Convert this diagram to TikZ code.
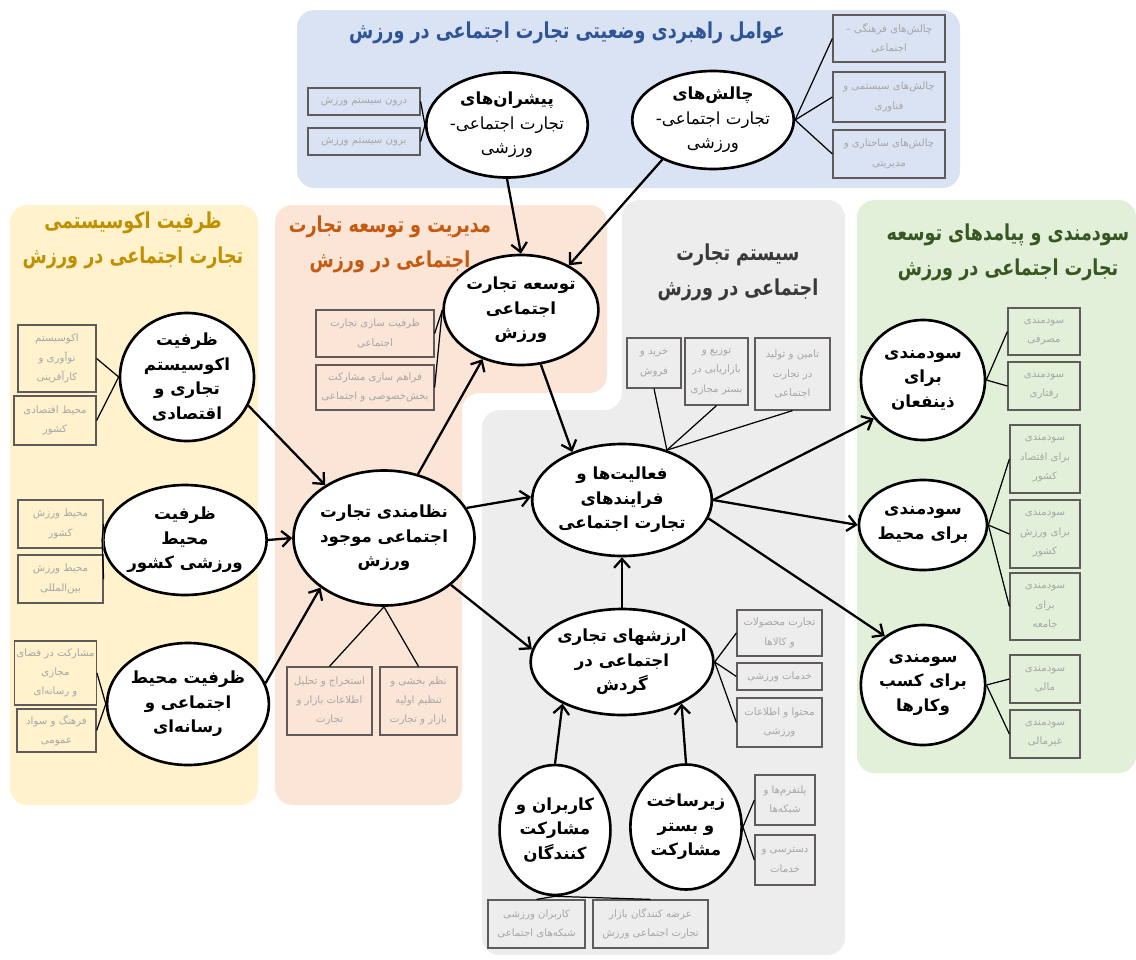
\documentclass[tikz,border=0pt]{standalone}
\usepackage{fontspec}
\setmainfont[Script=Arabic]{DejaVu Sans}
\newfontfamily\titlefont[Script=Arabic, FakeStretch=0.8]{DejaVu Sans}
\TeXXeTstate=1
\usetikzlibrary{shapes.geometric}
\usetikzlibrary{arrows.meta}

\newcommand{\fa}[1]{\beginR#1\endR}
\newlength{\pxlen}
\setlength{\pxlen}{0.02cm}

\definecolor{panelBlue}{HTML}{DAE3F3}
\definecolor{panelYellow}{HTML}{FFF2CC}
\definecolor{panelOrange}{HTML}{FBE5D6}
\definecolor{panelGray}{HTML}{EDEDED}
\definecolor{panelGreen}{HTML}{E2F0D9}
\definecolor{titleBlue}{HTML}{2F5597}
\definecolor{titleGold}{HTML}{BF9000}
\definecolor{titleOrange}{HTML}{C55A11}
\definecolor{titleGray}{HTML}{3A3838}
\definecolor{titleGreen}{HTML}{385723}
\definecolor{boxEdge}{HTML}{5F5B5B}
\definecolor{boxText}{HTML}{A6A6A6}

\tikzset{
	circ/.style={ellipse, draw=black, line width=1.5pt, fill=white, inner sep=0pt, align=center, font=\fontsize{9.5}{14}\selectfont\bfseries},
	infobox/.style={rectangle, draw=boxEdge, line width=0.7pt, text=boxText, inner sep=1pt, align=center, font=\fontsize{5.8}{11}\selectfont},
	sz/.style n args={2}{minimum width=#1\pxlen, minimum height=#2\pxlen},
	link/.style={draw=black, line width=0.7pt},
	flow/.style={draw=black, line width=1.3pt, -{Straight Barb[length=5pt,width=9pt,line width=1.3pt]}},
	paneltitle/.style={align=center, font=\titlefont\fontsize{12.5}{20}\selectfont\bfseries}
}

\begin{document}
\begin{tikzpicture}[x=0.02cm, y=-0.02cm]

	\useasboundingbox (0,0) rectangle (1136,960);

	%background panels
	\fill[panelBlue, rounded corners=0.35cm] (297,10) rectangle (960,188);
	\fill[panelYellow, rounded corners=0.35cm] (10,205) rectangle (258,805);
	\fill[panelOrange, rounded corners=0.35cm] (275,205) -- (607,205) -- (607,393) -- (462,393) -- (462,805) -- (275,805) -- cycle;
	\fill[panelGray, rounded corners=0.35cm] (622,200) -- (845,200) -- (845,955) -- (482,955) -- (482,410) -- (622,410) -- cycle;
	\fill[panelGreen, rounded corners=0.35cm] (857,200) rectangle (1136,773);

	%panel titles
	\node[paneltitle, text=titleBlue] (titleStrategic) at (567,33) {\fa{عوامل راهبردی وضعیتی تجارت اجتماعی در ورزش}};
	\node[paneltitle, text=titleGold] (titleEcosystem) at (133,240) {\fa{ظرفیت اکوسیستمی}\\\fa{تجارت اجتماعی در ورزش}};
	\node[paneltitle, text=titleOrange] (titleManagement) at (390,244) {\fa{مدیریت و توسعه تجارت}\\\fa{اجتماعی در ورزش}};
	\node[paneltitle, text=titleGray] (titleSystem) at (738,272) {\fa{سیستم تجارت}\\\fa{اجتماعی در ورزش}};
	\node[paneltitle, text=titleGreen] (titleOutcomes) at (1008,252) {\fa{سودمندی و پیامدهای توسعه}\\\fa{تجارت اجتماعی در ورزش}};

	%strategic factors
	\node[circ, sz={127}{105}] (circDrivers) at (507,125) {\fa{پیشران^^^^200cهای}\\{\mdseries\fa{تجارت اجتماعی-}}\\{\mdseries\fa{ورزشی}}};
	\node[circ, sz={137}{98}] (circChallenges) at (713,120) {\fa{چالش^^^^200cهای}\\{\mdseries\fa{تجارت اجتماعی-}}\\{\mdseries\fa{ورزشی}}};
	\node[infobox, sz={112}{27}] (boxInside) at (364,101.5) {\fa{درون سیستم ورزش}};
	\node[infobox, sz={112}{27}] (boxOutside) at (364,141.5) {\fa{برون سیستم ورزش}};
	\node[infobox, sz={112}{47}] (boxCultural) at (889,38.5) {\fa{چالش^^^^200cهای فرهنگی –}\\\fa{اجتماعی}};
	\node[infobox, sz={112}{50}] (boxSystemic) at (889,97) {\fa{چالش^^^^200cهای سیستمی و}\\\fa{فناوری}};
	\node[infobox, sz={112}{48}] (boxStructural) at (889,154) {\fa{چالش^^^^200cهای ساختاری و}\\\fa{مدیریتی}};
	\draw[link] (boxInside.east) -- (circDrivers.west);
	\draw[link] (boxOutside.east) -- (circDrivers.west);
	\draw[link] (circChallenges.east) -- (boxCultural.west);
	\draw[link] (circChallenges.east) -- (boxSystemic.west);
	\draw[link] (circChallenges.east) -- (boxStructural.west);

	%ecosystem capacity
	\node[circ, sz={134}{128}] (circEcosystem) at (187,377) {\fa{ظرفیت}\\\fa{اکوسیستم}\\\fa{تجاری و}\\\fa{اقتصادی}};
	\node[circ, sz={134}{110}] (circSportEnv) at (185,540) {\fa{ظرفیت}\\\fa{محیط}\\\fa{ورزشی کشور}};
	\node[circ, sz={138}{122}] (circSocialEnv) at (188,704) {\fa{ظرفیت محیط}\\\fa{اجتماعی و}\\\fa{رسانه^^^^200cای}};
	\node[infobox, sz={78}{67}] (boxInnovation) at (57,358.5) {\fa{اکوسیستم}\\\fa{نوآوری و}\\\fa{کارآفرینی}};
	\node[infobox, sz={82}{49}] (boxEconomic) at (55,420.5) {\fa{محیط اقتصادی}\\\fa{کشور}};
	\node[infobox, sz={85}{48}] (boxSportNat) at (60.5,524) {\fa{محیط ورزش}\\\fa{کشور}};
	\node[infobox, sz={85}{48}] (boxSportIntl) at (60.5,579) {\fa{محیط ورزش}\\\fa{بین^^^^200cالمللی}};
	\node[infobox, sz={81}{64}] (boxCyber) at (55.5,673) {\fa{مشارکت در فضای}\\\fa{مجازی}\\\fa{و رسانه^^^^200cای}};
	\node[infobox, sz={79}{43}] (boxCulture) at (56.5,730.5) {\fa{فرهنگ و سواد}\\\fa{عمومی}};
	\draw[link] (boxInnovation.east) -- (circEcosystem.west);
	\draw[link] (boxEconomic.east) -- (circEcosystem.west);
	\draw[link] (boxSportNat.east) -- (circSportEnv.west);
	\draw[link] (boxSportIntl.east) -- (circSportEnv.west);
	\draw[link] (boxCyber.east) -- (circSocialEnv.west);
	\draw[link] (boxCulture.east) -- (circSocialEnv.west);

	%management and development
	\node[circ, sz={120}{110}] (circDevelop) at (521,310) {\fa{توسعه تجارت}\\\fa{اجتماعی}\\\fa{ورزش}};
	\node[circ, sz={155}{135}] (circSystem) at (384,538) {\fa{نظامندی تجارت}\\\fa{اجتماعی موجود}\\\fa{ورزش}};
	\node[infobox, sz={118}{47}] (boxCapacity) at (375,333.5) {\fa{ظرفیت سازی تجارت}\\\fa{اجتماعی}};
	\node[infobox, sz={118}{45}] (boxMixed) at (375,387.5) {\fa{فراهم سازی مشارکت}\\\fa{بخش^^^^200cخصوصی و اجتماعی}};
	\node[infobox, sz={85}{68}] (boxExtract) at (329.5,701) {\fa{استخراج و تحلیل}\\\fa{اطلاعات بازار و}\\\fa{تجارت}};
	\node[infobox, sz={77}{68}] (boxRegulate) at (418.5,701) {\fa{نظم بخشی و}\\\fa{تنظیم اولیه}\\\fa{بازار و تجارت}};
	\draw[link] (boxCapacity.east) -- (circDevelop.west);
	\draw[link] (boxMixed.east) -- (circDevelop.west);
	\draw[link] (circSystem.south) -- (boxExtract.north);
	\draw[link] (circSystem.south) -- (boxRegulate.north);

	%social commerce system
	\node[circ, sz={166}{112}] (circActivities) at (622,500) {\fa{فعالیت^^^^200cها و}\\\fa{فرایندهای}\\\fa{تجارت اجتماعی}};
	\node[circ, sz={166}{106}] (circValues) at (622,662) {\fa{ارزشهای تجاری}\\\fa{اجتماعی در}\\\fa{گردش}};
	\node[circ, sz={102}{130}] (circUsers) at (555,830) {\fa{کاربران و}\\\fa{مشارکت}\\\fa{کنندگان}};
	\node[circ, sz={108}{125}] (circInfra) at (686,827) {\fa{زیرساخت}\\\fa{و بستر}\\\fa{مشارکت}};
	\node[infobox, sz={54}{50}] (boxBuy) at (654,363) {\fa{خرید و}\\\fa{فروش}};
	\node[infobox, sz={63}{67}] (boxDistribute) at (716.5,371.5) {\fa{توزیع و}\\\fa{بازاریابی در}\\\fa{بستر مجازی}};
	\node[infobox, sz={75}{72}] (boxSupply) at (792.5,374) {\fa{تامین و تولید}\\\fa{در تجارت}\\\fa{اجتماعی}};
	\node[infobox, sz={85}{46}] (boxProducts) at (779.5,633) {\fa{تجارت محصولات}\\\fa{و کالاها}};
	\node[infobox, sz={85}{27}] (boxServices) at (779.5,676.5) {\fa{خدمات ورزشی}};
	\node[infobox, sz={85}{49}] (boxContent) at (779.5,722.5) {\fa{محتوا و اطلاعات}\\\fa{ورزشی}};
	\node[infobox, sz={60}{50}] (boxPlatforms) at (785,800) {\fa{پلتفرم^^^^200cها و}\\\fa{شبکه^^^^200cها}};
	\node[infobox, sz={60}{50}] (boxAccess) at (785,860) {\fa{دسترسی و}\\\fa{خدمات}};
	\node[infobox, sz={97}{48}] (boxSportUsers) at (536.5,924) {\fa{کاربران ورزشی}\\\fa{شبکه^^^^200cهای اجتماعی}};
	\node[infobox, sz={115}{48}] (boxSuppliers) at (650.5,924) {\fa{عرضه کنندگان بازار}\\\fa{تجارت اجتماعی ورزش}};
	\draw[link] (boxBuy.south) -- (circActivities.48);
	\draw[link] (boxDistribute.south) -- (circActivities.48);
	\draw[link] (boxSupply.south) -- (circActivities.48);
	\draw[link] (circValues.east) -- (boxProducts.west);
	\draw[link] (circValues.east) -- (boxServices.west);
	\draw[link] (circValues.east) -- (boxContent.west);
	\draw[link] (circInfra.east) -- (boxPlatforms.west);
	\draw[link] (circInfra.east) -- (boxAccess.west);
	\draw[link] (circUsers.south) -- (boxSportUsers.north);
	\draw[link] (circUsers.south) -- (boxSuppliers.north);

	%outcomes
	\node[circ, sz={124}{120}] (circStake) at (923,380) {\fa{سودمندی}\\\fa{برای}\\\fa{ذینفعان}};
	\node[circ, sz={124}{90}] (circEnv) at (923,525) {\fa{سودمندی}\\\fa{برای محیط}};
	\node[circ, sz={124}{120}] (circBusiness) at (923,685) {\fa{سومندی}\\\fa{برای کسب}\\\fa{وکارها}};
	\node[infobox, sz={72}{47}] (boxConsume) at (1044,331.5) {\fa{سودمندی}\\\fa{مصرفی}};
	\node[infobox, sz={72}{48}] (boxBehave) at (1044,386) {\fa{سودمندی}\\\fa{رفتاری}};
	\node[infobox, sz={70}{68}] (boxEconomy) at (1045,459) {\fa{سودمندی}\\\fa{برای اقتصاد}\\\fa{کشور}};
	\node[infobox, sz={70}{68}] (boxSportCountry) at (1045,534) {\fa{سودمندی}\\\fa{برای ورزش}\\\fa{کشور}};
	\node[infobox, sz={70}{67}] (boxSociety) at (1045,606.5) {\fa{سودمندی}\\\fa{برای}\\\fa{جامعه}};
	\node[infobox, sz={70}{48}] (boxFinancial) at (1045,679) {\fa{سودمندی}\\\fa{مالی}};
	\node[infobox, sz={70}{48}] (boxNonFinancial) at (1045,734) {\fa{سودمندی}\\\fa{غیرمالی}};
	\draw[link] (circStake.east) -- (boxConsume.west);
	\draw[link] (circStake.east) -- (boxBehave.west);
	\draw[link] (circEnv.east) -- (boxEconomy.west);
	\draw[link] (circEnv.east) -- (boxSportCountry.west);
	\draw[link] (circEnv.east) -- (boxSociety.west);
	\draw[link] (circBusiness.east) -- (boxFinancial.west);
	\draw[link] (circBusiness.east) -- (boxNonFinancial.west);

	%main arrows
	\draw[flow] (circDrivers.south) -- (circDevelop.north);
	\draw[flow] (circChallenges.218) -- (circDevelop.43);
	\draw[flow] (circEcosystem.-25) -- (circSystem.138);
	\draw[flow] (circSportEnv.east) -- (circSystem.west);
	\draw[flow] (circSocialEnv.15) -- (circSystem.218);
	\draw[flow] (circSystem.62) -- (circDevelop.232);
	\draw[flow] (circDevelop.290) -- (circActivities.136);
	\draw[flow] (circSystem.20) -- (circActivities.178);
	\draw[flow] (circSystem.-35) -- (circValues.172);
	\draw[flow] (circValues.north) -- (circActivities.south);
	\draw[flow] (circUsers.north) -- (circValues.215);
	\draw[flow] (circInfra.north) -- (circValues.325);
	\draw[flow] (circActivities.east) -- (circStake.218);
	\draw[flow] (circActivities.east) -- (circEnv.west);
	\draw[flow] (circActivities.-12) -- (circBusiness.128);

\end{tikzpicture}
\end{document}
